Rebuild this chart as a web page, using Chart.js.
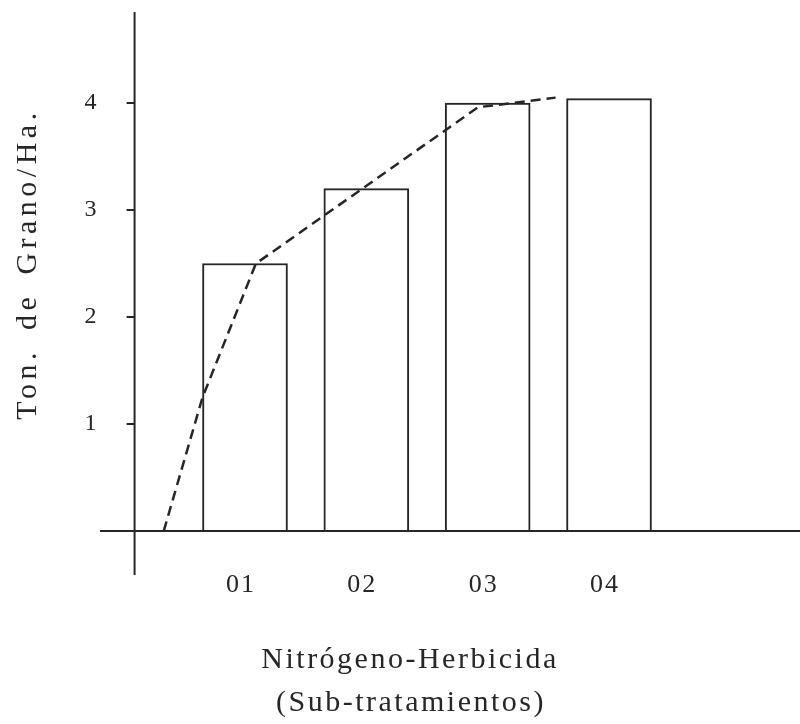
<!DOCTYPE html>
<html lang="es">
<head>
    <meta charset="UTF-8">
    <title>Ton. de Grano/Ha.</title>
    <style>
        html, body { margin: 0; padding: 0; background: #fff; }
        .chart-container { width: 800px; height: 724px; position: relative; }
    </style>
    <script src="https://cdn.jsdelivr.net/npm/chart.js"></script>
</head>
<body>
    <div class="chart-container">
        <canvas id="yield-chart"></canvas>
    </div>

    <script>
        // Data
        const categories = ['01', '02', '03', '04'];
        const barPositions = [1, 2, 3, 4];
        const grainYield = [2.5, 3.2, 4.0, 4.04];
        // hand-drawn dashed curve (x in category units, y in ton/ha)
        const trendX = [0.33, 0.65, 1.09, 2.92, 3.56];
        const trendY = [0, 1.25, 2.5, 3.96, 4.05];
        const yTicks = [1, 2, 3, 4];

        const ink = '#262626';
        const serif = "'Liberation Serif', 'DejaVu Serif', serif";
        const yAxisAt = 0.09;   // x value where the vertical axis crosses

        const paperAxes = {
            id: 'paperAxes',
            afterDatasetsDraw(chart) {
                const { ctx, chartArea, scales: { x, y } } = chart;
                const x0 = x.getPixelForValue(yAxisAt);
                const y0 = y.getPixelForValue(0);

                ctx.save();
                ctx.strokeStyle = ink;
                ctx.lineWidth = 2;
                ctx.beginPath();
                ctx.moveTo(chartArea.left, y0);
                ctx.lineTo(chartArea.right, y0);
                ctx.moveTo(x0, chartArea.top);
                ctx.lineTo(x0, chartArea.bottom);
                yTicks.forEach(v => {
                    const py = y.getPixelForValue(v);
                    ctx.moveTo(x0 - 8, py);
                    ctx.lineTo(x0, py);
                });
                ctx.stroke();

                ctx.fillStyle = ink;
                ctx.textAlign = 'center';
                ctx.textBaseline = 'middle';

                // tick labels
                ctx.font = `24px ${serif}`;
                ctx.letterSpacing = '0px';
                yTicks.forEach(v => {
                    ctx.fillText(String(v), x0 - 44, y.getPixelForValue(v));
                });
                ctx.font = `26px ${serif}`;
                ctx.letterSpacing = '2px';
                categories.forEach((c, i) => {
                    ctx.fillText(c, x.getPixelForValue(barPositions[i]) - 4, y0 + 54);
                });

                // axis titles
                ctx.font = `30px ${serif}`;
                ctx.letterSpacing = '2.5px';
                ctx.fillText('Nitrógeno-Herbicida', 410, 660);
                ctx.fillText('(Sub-tratamientos)', 411, 703);

                ctx.save();
                ctx.translate(28, 264);
                ctx.rotate(-Math.PI / 2);
                ctx.letterSpacing = '4.5px';
                ctx.wordSpacing = '6px';
                ctx.fillText('Ton. de Grano/Ha.', 0, 0);
                ctx.restore();

                ctx.restore();
            }
        };

        new Chart(document.getElementById('yield-chart'), {
            type: 'bar',
            data: {
                datasets: [{
                    type: 'line',
                    data: trendX.map((v, i) => ({ x: v, y: trendY[i] })),
                    borderColor: ink,
                    borderWidth: 2.5,
                    borderDash: [10, 6],
                    pointRadius: 0,
                    tension: 0,
                    fill: false,
                    order: 0
                }, {
                    type: 'bar',
                    data: barPositions.map((v, i) => ({ x: v, y: grainYield[i] })),
                    backgroundColor: '#ffffff',
                    borderColor: ink,
                    borderWidth: 2,
                    borderSkipped: 'bottom',
                    barThickness: 85,
                    order: 1
                }]
            },
            options: {
                responsive: true,
                maintainAspectRatio: false,
                animation: false,
                layout: {
                    padding: { left: 100, right: 0, top: 12, bottom: 149 }
                },
                scales: {
                    x: { type: 'linear', min: -0.195, max: 5.574, offset: false, display: false },
                    y: { type: 'linear', min: -0.41, max: 4.85, display: false }
                },
                plugins: {
                    legend: { display: false },
                    tooltip: { enabled: false }
                }
            },
            plugins: [paperAxes]
        });
    </script>
</body>
</html>
